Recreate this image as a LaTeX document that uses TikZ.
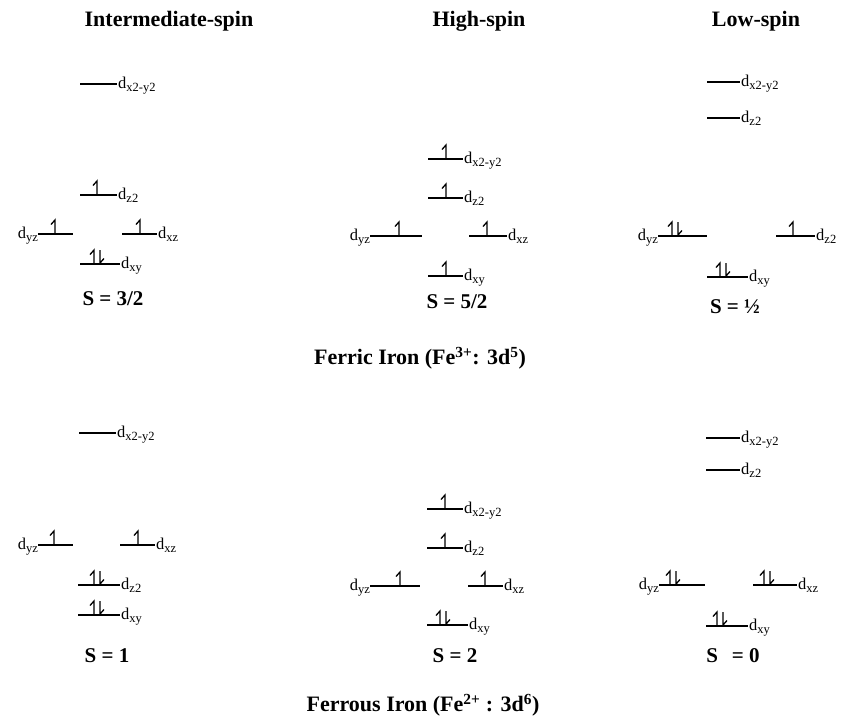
\documentclass[tikz,border=0pt]{standalone}
\usepackage{fontspec}
\setmainfont{Liberation Serif}
% orbital label: d with a lowered index
\newcommand\dorb[1]{d\raisebox{-3.5pt}{\fontsize{12.5}{12.5}\selectfont #1}}
\begin{document}
\begin{tikzpicture}[x=1pt,y=-1pt,
  level/.style={line width=1.2pt},
  spin/.style={line width=1.3pt},
  orb/.style={inner sep=0pt,font=\fontsize{16.5}{16.5}\selectfont},
  orbl/.style={orb,anchor=base west},
  orbr/.style={orb,anchor=base east},
  spinval/.style={inner sep=0pt,font=\fontsize{21}{21}\selectfont\bfseries},
  head/.style={inner sep=0pt,font=\fontsize{22}{22}\selectfont\bfseries},
  up/.pic={\draw[spin] (0,-1) -- (0,-14) -- (-4,-9.5);},
  pair/.pic={\draw[spin] (-3,-1) -- (-3,-14) -- (-7,-9.5);
             \draw[spin] (3,-14) -- (3,-1) -- (7,-5.5);}
]
\useasboundingbox (0,0) rectangle (841,721);

% column headings
\node[head] (h1) at (169,21) {Intermediate-spin};
\node[head] (h2) at (479,21) {High-spin};
\node[head] (h3) at (756,21) {Low-spin};

% ---------- Fe(III), intermediate spin ----------
\draw[level] (80,84) -- (117,84);   \node[orbl] (a1) at (118,88) {\dorb{x2-y2}};
\draw[level] (80,195) -- (117,195); \pic at (97,195) {up};
\node[orbl] (a2) at (118,199) {\dorb{z2}};
\node[orbr] (a3) at (38,238) {\dorb{yz}};
\draw[level] (38,234) -- (73,234);  \pic at (55,234) {up};
\draw[level] (122,234) -- (157,234); \pic at (140,234) {up};
\node[orbl] (a4) at (158,238) {\dorb{xz}};
\draw[level] (80,264) -- (120,264); \pic at (97,264) {pair};
\node[orbl] (a5) at (121,268) {\dorb{xy}};
\node[spinval] (s1) at (113,299) {S = 3/2};

% ---------- Fe(III), high spin ----------
\draw[level] (428,159) -- (463,159); \pic at (446,159) {up};
\node[orbl] (b1) at (464,163) {\dorb{x2-y2}};
\draw[level] (428,198) -- (463,198); \pic at (446,198) {up};
\node[orbl] (b2) at (464,202) {\dorb{z2}};
\node[orbr] (b3) at (370,240) {\dorb{yz}};
\draw[level] (370,236) -- (422,236); \pic at (399,236) {up};
\draw[level] (469,236) -- (507,236); \pic at (487,236) {up};
\node[orbl] (b4) at (508,240) {\dorb{xz}};
\draw[level] (428,276) -- (463,276); \pic at (446,276) {up};
\node[orbl] (b5) at (464,280) {\dorb{xy}};
\node[spinval] (s2) at (457,302) {S = 5/2};

% ---------- Fe(III), low spin ----------
\draw[level] (707,82) -- (740,82);   \node[orbl] (c1) at (741,86) {\dorb{x2-y2}};
\draw[level] (707,118) -- (740,118); \node[orbl] (c2) at (741,122) {\dorb{z2}};
\node[orbr] (c3) at (658,240) {\dorb{yz}};
\draw[level] (658,236) -- (707,236); \pic at (675,236) {pair};
\draw[level] (776,236) -- (815,236); \pic at (793,236) {up};
\node[orbl] (c4) at (816,240) {\dorb{z2}};
\draw[level] (707,277) -- (748,277); \pic at (723,277) {pair};
\node[orbl] (c5) at (749,281) {\dorb{xy}};
\node[spinval] (s3) at (735,307) {S = ½};

\node[head] (t1) at (420,358) {Ferric Iron (Fe\textsuperscript{3+}: 3d\textsuperscript{5})};

% ---------- Fe(II), intermediate spin ----------
\draw[level] (79,433) -- (116,433); \node[orbl] (d1) at (117,437) {\dorb{x2-y2}};
\node[orbr] (d2) at (38,549) {\dorb{yz}};
\draw[level] (38,545) -- (73,545);  \pic at (54,545) {up};
\draw[level] (120,545) -- (155,545); \pic at (138,545) {up};
\node[orbl] (d3) at (156,549) {\dorb{xz}};
\draw[level] (78,585) -- (120,585); \pic at (97,585) {pair};
\node[orbl] (d4) at (121,589) {\dorb{z2}};
\draw[level] (78,615) -- (120,615); \pic at (97,615) {pair};
\node[orbl] (d5) at (121,619) {\dorb{xy}};
\node[spinval] (s4) at (107,656) {S = 1};

% ---------- Fe(II), high spin ----------
\draw[level] (427,509) -- (463,509); \pic at (445,509) {up};
\node[orbl] (e1) at (464,513) {\dorb{x2-y2}};
\draw[level] (427,548) -- (463,548); \pic at (445,548) {up};
\node[orbl] (e2) at (464,552) {\dorb{z2}};
\node[orbr] (e3) at (370,590) {\dorb{yz}};
\draw[level] (370,586) -- (420,586); \pic at (400,586) {up};
\draw[level] (468,586) -- (503,586); \pic at (485,586) {up};
\node[orbl] (e4) at (504,590) {\dorb{xz}};
\draw[level] (427,625) -- (468,625); \pic at (443,625) {pair};
\node[orbl] (e5) at (469,629) {\dorb{xy}};
\node[spinval] (s5) at (455,656) {S = 2};

% ---------- Fe(II), low spin ----------
\draw[level] (706,438) -- (740,438); \node[orbl] (f1) at (741,442) {\dorb{x2-y2}};
\draw[level] (706,470) -- (740,470); \node[orbl] (f2) at (741,474) {\dorb{z2}};
\node[orbr] (f3) at (659,589) {\dorb{yz}};
\draw[level] (659,585) -- (705,585); \pic at (673,585) {pair};
\draw[level] (753,585) -- (797,585); \pic at (767,585) {pair};
\node[orbl] (f4) at (798,589) {\dorb{xz}};
\draw[level] (706,626) -- (748,626); \pic at (720,626) {pair};
\node[orbl] (f5) at (749,630) {\dorb{xy}};
\node[spinval] (s6) at (733,656) {S\hspace{14pt}= 0};

\node[head] (t2) at (423,705) {Ferrous Iron (Fe\textsuperscript{2+} : 3d\textsuperscript{6})};
\end{tikzpicture}
\end{document}
